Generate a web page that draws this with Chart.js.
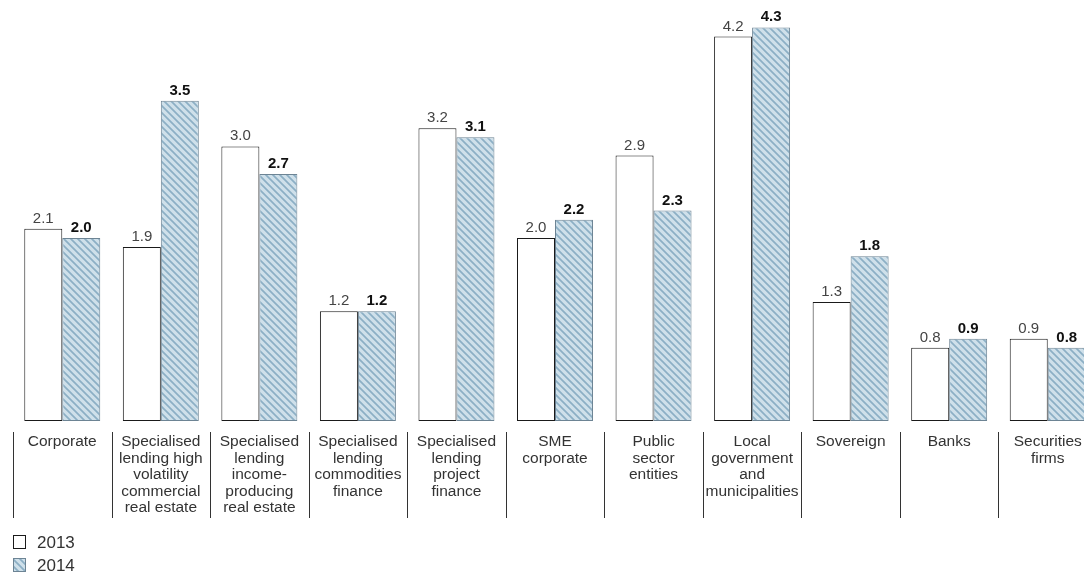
<!DOCTYPE html>
<html lang="en">
<head>
<meta charset="UTF-8">
<title>Risk weights by exposure class, 2013 vs 2014</title>
<script src="https://cdn.jsdelivr.net/npm/chart.js"></script>
<style>
    html, body {
        margin: 0;
        padding: 0;
        background: #ffffff;
        overflow: hidden;
    }
    #wrap {
        width: 1084px;
        height: 578px;
        overflow: hidden;
    }
</style>
</head>
<body>

<div id="wrap">
    <canvas id="rwChart" width="1097" height="578"></canvas>
</div>

<script>
// exposure classes (multi-line labels)
const categories = [
    ['Corporate'],
    ['Specialised', 'lending high', 'volatility', 'commercial', 'real estate'],
    ['Specialised', 'lending', 'income-', 'producing', 'real estate'],
    ['Specialised', 'lending', 'commodities', 'finance'],
    ['Specialised', 'lending', 'project', 'finance'],
    ['SME', 'corporate'],
    ['Public', 'sector', 'entities'],
    ['Local', 'government', 'and', 'municipalities'],
    ['Sovereign'],
    ['Banks'],
    ['Securities', 'firms']
];

const years = ['2013', '2014'];
const values2013 = [2.1, 1.9, 3.0, 1.2, 3.2, 2.0, 2.9, 4.2, 1.3, 0.8, 0.9];
const values2014 = [2.0, 3.5, 2.7, 1.2, 3.1, 2.2, 2.3, 4.3, 1.8, 0.9, 0.8];

const FONT = "'Liberation Sans', Arial, Helvetica, sans-serif";

// diagonal hatch for the 2014 bars
function makeHatch() {
    const s = 7;
    const c = document.createElement('canvas');
    c.width = s;
    c.height = s;
    const g = c.getContext('2d');
    g.fillStyle = '#cfe0ea';
    g.fillRect(0, 0, s, s);
    g.strokeStyle = '#8cafc5';
    g.lineWidth = 1.7;
    g.beginPath();
    g.moveTo(-1, -1); g.lineTo(s + 1, s + 1);
    g.moveTo(-1, s - 1); g.lineTo(1, s + 1);
    g.moveTo(s - 1, -1); g.lineTo(s + 1, 1);
    g.stroke();
    return g.createPattern(c, 'repeat');
}
const hatch = makeHatch();

// value labels above each bar
const valueLabels = {
    id: 'valueLabels',
    afterDatasetsDraw(chart) {
        const ctx = chart.ctx;
        ctx.save();
        ctx.textAlign = 'center';
        ctx.textBaseline = 'alphabetic';
        chart.data.datasets.forEach((ds, di) => {
            const meta = chart.getDatasetMeta(di);
            ctx.font = (di === 1 ? 'bold ' : '') + '15px ' + FONT;
            ctx.fillStyle = di === 1 ? '#111111' : '#444444';
            meta.data.forEach((bar, i) => {
                ctx.fillText(ds.data[i].toFixed(1), bar.x, bar.y - 6);
            });
        });
        ctx.restore();
    }
};

// vertical separators between category labels
const separators = {
    id: 'separators',
    afterDraw(chart) {
        const x = chart.scales.x;
        const ctx = chart.ctx;
        const step = (x.right - x.left) / chart.data.labels.length;
        ctx.save();
        ctx.strokeStyle = '#333333';
        ctx.lineWidth = 1;
        ctx.beginPath();
        for (let i = 0; i <= chart.data.labels.length; i++) {
            const px = Math.round(x.left + i * step) + 0.5;
            ctx.moveTo(px, 432);
            ctx.lineTo(px, 518);
        }
        ctx.stroke();
        ctx.restore();
    }
};

// stacked legend in the bottom-left corner
const cornerLegend = {
    id: 'cornerLegend',
    afterDraw(chart) {
        const ctx = chart.ctx;
        ctx.save();
        ctx.font = '17px ' + FONT;
        ctx.textBaseline = 'middle';
        chart.data.datasets.forEach((ds, i) => {
            const y = 535 + i * 23;
            ctx.fillStyle = ds.backgroundColor;
            ctx.fillRect(13, y, 13, 14);
            ctx.strokeStyle = ds.borderColor;
            ctx.lineWidth = 1;
            ctx.strokeRect(13.5, y + 0.5, 12, 13);
            ctx.fillStyle = '#333333';
            ctx.fillText(ds.label, 37, y + 8);
        });
        ctx.restore();
    }
};

new Chart(document.getElementById('rwChart'), {
    type: 'bar',
    data: {
        labels: categories,
        datasets: [
            {
                label: years[0],
                data: values2013,
                backgroundColor: '#ffffff',
                borderColor: '#1a1a1a',
                borderWidth: 1,
                borderSkipped: false
            },
            {
                label: years[1],
                data: values2014,
                backgroundColor: hatch,
                borderColor: '#6d8494',
                borderWidth: 1,
                borderSkipped: false
            }
        ]
    },
    options: {
        responsive: false,
        animation: false,
        layout: {
            padding: { left: 13, right: 0, top: 0, bottom: 47 }
        },
        datasets: {
            bar: {
                categoryPercentage: 0.771,
                barPercentage: 1
            }
        },
        plugins: {
            legend: { display: false },
            tooltip: { enabled: false }
        },
        scales: {
            x: {
                grid: { display: false },
                border: { display: false },
                ticks: {
                    padding: 5,
                    color: '#333333',
                    maxRotation: 0,
                    autoSkip: false,
                    font: { family: FONT, size: 15.5, lineHeight: 1.06 }
                },
                afterFit(scale) {
                    scale.height = 110;
                }
            },
            y: {
                display: false,
                min: 0,
                max: 4.6
            }
        }
    },
    plugins: [valueLabels, separators, cornerLegend]
});
</script>

</body>
</html>
